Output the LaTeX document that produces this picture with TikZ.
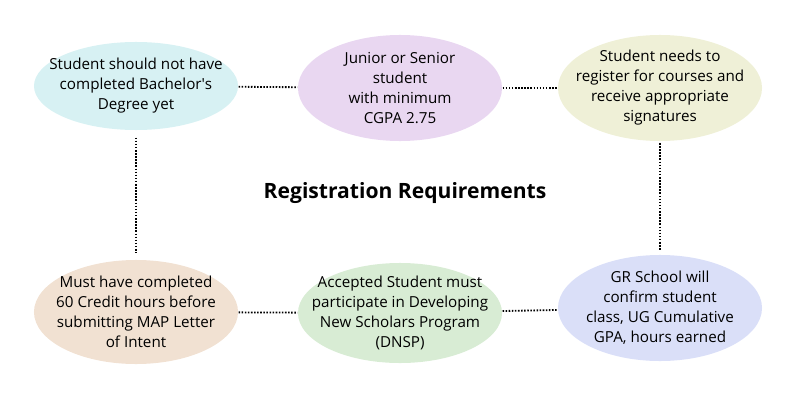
\documentclass[tikz,border=0pt]{standalone}
\usepackage{fontspec}
\setmainfont{Open Sans}
\usepackage{tikz}
\usetikzlibrary{shapes}

\definecolor{blobcyan}{HTML}{D7F1F3}
\definecolor{bloblilac}{HTML}{E9D7F1}
\definecolor{blobolive}{HTML}{EFF0D7}
\definecolor{blobpeach}{HTML}{F1E1D2}
\definecolor{blobgreen}{HTML}{D8ECD4}
\definecolor{blobblue}{HTML}{DADFF8}

\begin{document}
\begin{tikzpicture}[x=0.025cm, y=-0.025cm, thick,
    blob/.style={ellipse, minimum width=5.1cm, minimum height=2.65cm, inner sep=0pt},
    words/.style={align=center, font=\fontsize{10.8}{14.2}\selectfont},
    link/.style={line width=1.3pt, dash pattern=on 1.1pt off 1.1pt}]

\useasboundingbox (0,0) rectangle (800,400);

% the six requirement blobs
\draw
    node at(136,86)[blob,fill=blobcyan,minimum height=2.2cm,name=bachelor]{}
    node at(400,88)[blob,fill=bloblilac,name=cgpa]{}
    node at(660,88)[blob,fill=blobolive,name=courses]{}

    node at(136,312)[blob,fill=blobpeach,minimum height=2.6cm,name=credits]{}
    node at(400,313)[blob,fill=blobgreen,minimum height=2.5cm,name=dnsp]{}
    node at(660,308)[blob,fill=blobblue,name=confirm]{}
;

\draw
    node at(136,86)[words]{Student should not have\\completed Bachelor\textquotesingle s\\Degree yet}
    node at(400,88)[words]{Junior or Senior\\student\\with minimum\\CGPA 2.75}
    node at(660,88)[words]{Student needs to\\register for courses and\\receive appropriate\\signatures}

    node at(136,312)[words]{Must have completed\\60 Credit hours before\\submitting MAP Letter\\of Intent}
    node at(400,313)[words]{Accepted Student must\\participate in Developing\\New Scholars Program\\(DNSP)}
    node at(660,308)[words]{GR School will\\confirm student\\class, UG Cumulative\\GPA, hours earned}

    node at(405,193)[font=\fontsize{15}{18}\selectfont\bfseries,name=title]{Registration Requirements}
;

\draw[link](bachelor) -- (cgpa);
\draw[link](cgpa) -- (courses);
\draw[link,shorten <=5pt,shorten >=5pt](bachelor) -- (credits);
\draw[link,shorten <=1pt,shorten >=3pt](courses) -- (confirm);
\draw[link](credits) -- (dnsp);
\draw[link](dnsp) -- (confirm);

\end{tikzpicture}
\end{document}
